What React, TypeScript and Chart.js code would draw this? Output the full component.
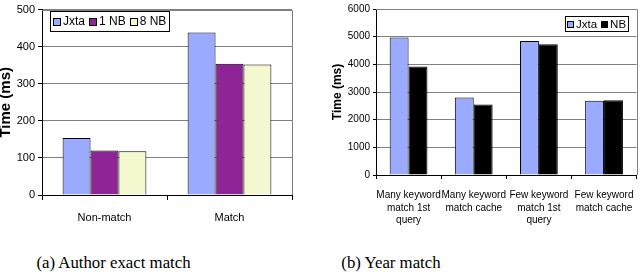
import React, { useEffect, useRef } from "react";
import { Chart, registerables } from "chart.js";

Chart.register(...registerables);

// ---- data ----
const authorCategories = ["Non-match", "Match"];
const authorJxta = [154, 438];
const author1NB = [120, 354];
const author8NB = [118, 352];

const yearCategories = [
  ["Many keyword", "match 1st", "query"],
  ["Many keyword", "match cache"],
  ["Few keyword", "match 1st", "query"],
  ["Few keyword", "match cache"],
];
const yearJxta = [4970, 2800, 4840, 2680];
const yearNB = [3920, 2550, 4730, 2700];

const captionA = "(a) Author exact match";
const captionB = "(b) Year match";

// ---- plugins ----
const boxLegend = {
  id: "boxLegend",
  afterDraw(chart: any, _args: any, opts: any) {
    if (!opts || opts.x === undefined) return;
    const ctx = chart.ctx as CanvasRenderingContext2D;
    const { x, y, height, font, swatch, pad, gap, itemGap } = opts;
    ctx.save();
    ctx.font = font;
    const items = chart.data.datasets.map((ds: any) => ({ label: ds.label, color: ds.backgroundColor }));
    let w = pad * 2;
    items.forEach((it: any, i: number) => {
      w += swatch + gap + ctx.measureText(it.label).width + (i < items.length - 1 ? itemGap : 0);
    });
    w = Math.round(w);
    ctx.fillStyle = "#fff";
    ctx.fillRect(x, y, w, height);
    ctx.strokeStyle = "#000";
    ctx.lineWidth = 1;
    ctx.strokeRect(x + 0.5, y + 0.5, w, height);
    let cx = x + pad;
    const cy = y + height / 2 + 0.5;
    items.forEach((it: any) => {
      const sx = Math.round(cx);
      const sy = Math.round(cy - swatch / 2);
      ctx.fillStyle = it.color;
      ctx.fillRect(sx, sy, swatch, swatch);
      ctx.strokeStyle = "#000";
      ctx.strokeRect(sx + 0.5, sy + 0.5, swatch - 1, swatch - 1);
      cx += swatch + gap;
      ctx.fillStyle = "#000";
      ctx.textBaseline = "middle";
      ctx.fillText(it.label, cx, cy + 0.5);
      cx += ctx.measureText(it.label).width + itemGap;
    });
    ctx.restore();
  },
};

const areaBorder = {
  id: "areaBorder",
  afterDatasetsDraw(chart: any) {
    const { ctx, chartArea } = chart;
    ctx.save();
    ctx.strokeStyle = "#808080";
    ctx.lineWidth = 1;
    ctx.beginPath();
    const r = Math.round(chartArea.right) + 0.5;
    const t = Math.round(chartArea.top) + 0.5;
    ctx.moveTo(chartArea.left, t);
    ctx.lineTo(r, t);
    ctx.lineTo(r, chartArea.bottom);
    ctx.stroke();
    ctx.restore();
  },
};

type PanelProps = {
  width: number;
  height: number;
  left: number;
  config: any;
};

function Panel({ width, height, left, config }: PanelProps) {
  const ref = useRef<HTMLCanvasElement | null>(null);
  useEffect(() => {
    if (!ref.current) return;
    const chart = new Chart(ref.current, config);
    return () => chart.destroy();
  }, []);
  return (
    <canvas
      ref={ref}
      width={width}
      height={height}
      style={{ position: "absolute", left, top: 0, width, height }}
    />
  );
}

const FONT = "'Liberation Sans', Arial, sans-serif";

function makeConfig(opts: {
  labels: any[];
  datasets: any[];
  max: number;
  step: number;
  padding: any;
  yWidth: number;
  xHeight: number;
  tickSize: number;
  catSize: number;
  titleSize: number;
  titlePad: number;
  titleLH: number;
  yTickLen: number;
  xTickLen: number;
  xPad: number;
  catPct: number;
  legend: any;
}) {
  return {
    type: "bar",
    data: {
      labels: opts.labels,
      datasets: opts.datasets.map((d) => ({
        ...d,
        borderColor: "#000",
        borderWidth: 1,
        categoryPercentage: opts.catPct,
        barPercentage: 1,
      })),
    },
    options: {
      responsive: false,
      animation: false,
      layout: { padding: opts.padding },
      plugins: {
        legend: { display: false },
        tooltip: { enabled: false },
        boxLegend: opts.legend,
      },
      scales: {
        x: {
          grid: {
            display: true,
            drawOnChartArea: false,
            offset: true,
            drawTicks: true,
            tickLength: opts.xTickLen,
            color: "#000",
          },
          border: { color: "#000", width: 1 },
          ticks: {
            color: "#000",
            font: { family: FONT, size: opts.catSize, lineHeight: 1.25 },
            padding: opts.xPad,
            maxRotation: 0,
            autoSkip: false,
          },
          afterFit: (s: any) => {
            s.height = opts.xHeight;
          },
        },
        y: {
          min: 0,
          max: opts.max,
          ticks: {
            stepSize: opts.step,
            color: "#000",
            font: { family: FONT, size: opts.tickSize },
            padding: 3,
            callback: (v: any) => String(v),
          },
          grid: {
            color: "#808080",
            tickColor: "#000",
            tickLength: opts.yTickLen,
          },
          border: { color: "#000", width: 1 },
          title: {
            display: true,
            text: "Time (ms)",
            color: "#000",
            font: { family: FONT, size: opts.titleSize, weight: "bold", lineHeight: opts.titleLH },
            padding: { top: opts.titlePad, bottom: 0 },
          },
          afterFit: (s: any) => {
            s.width = opts.yWidth;
          },
        },
      },
    },
    plugins: [areaBorder, boxLegend],
  };
}

const configA = makeConfig({
  labels: authorCategories,
  datasets: [
    { label: "Jxta", data: authorJxta, backgroundColor: "#9AAAFF" },
    { label: "1 NB", data: author1NB, backgroundColor: "#8E2496" },
    { label: "8 NB", data: author8NB, backgroundColor: "#F4F8CF" },
  ],
  max: 500,
  step: 100,
  padding: { top: 6, right: 30, left: 0, bottom: 0 },
  yWidth: 42,
  xHeight: 35,
  tickSize: 11,
  catSize: 11,
  titleSize: 15,
  titlePad: 0,
  titleLH: 0.8,
  yTickLen: 4,
  xTickLen: 5,
  xPad: 11,
  catPct: 0.67,
  legend: { x: 50, y: 11, height: 20, font: `12px ${FONT}`, swatch: 8, pad: 3, gap: 2, itemGap: 4 },
});

const configB = makeConfig({
  labels: yearCategories,
  datasets: [
    { label: "Jxta", data: yearJxta, backgroundColor: "#9AAAFF" },
    { label: "NB", data: yearNB, backgroundColor: "#000000" },
  ],
  max: 6000,
  step: 1000,
  padding: { top: 7, right: 4, left: 0, bottom: 0 },
  yWidth: 54,
  xHeight: 55,
  tickSize: 10,
  catSize: 10,
  titleSize: 12,
  titlePad: 8,
  titleLH: 1.2,
  yTickLen: 3,
  xTickLen: 4,
  xPad: 10,
  catPct: 0.58,
  legend: { x: 243, y: 16, height: 15, font: `11.5px ${FONT}`, swatch: 7, pad: 2, gap: 2, itemGap: 4 },
});

export default function App() {
  const capStyle: React.CSSProperties = {
    position: "absolute",
    top: 254,
    fontFamily: "'Liberation Serif', 'Times New Roman', serif",
    fontSize: 16.8,
    lineHeight: "17px",
    color: "#000",
    textAlign: "center",
    whiteSpace: "nowrap",
  };
  return (
    <div style={{ position: "absolute", left: 0, top: 0, width: 644, height: 280, background: "#fff" }}>
      <Panel width={322} height={230} left={0} config={configA} />
      <Panel width={322} height={230} left={322} config={configB} />
      <div style={{ ...capStyle, left: 0, width: 227 }}>{captionA}</div>
      <div style={{ ...capStyle, left: 291, width: 200 }}>{captionB}</div>
    </div>
  );
}
